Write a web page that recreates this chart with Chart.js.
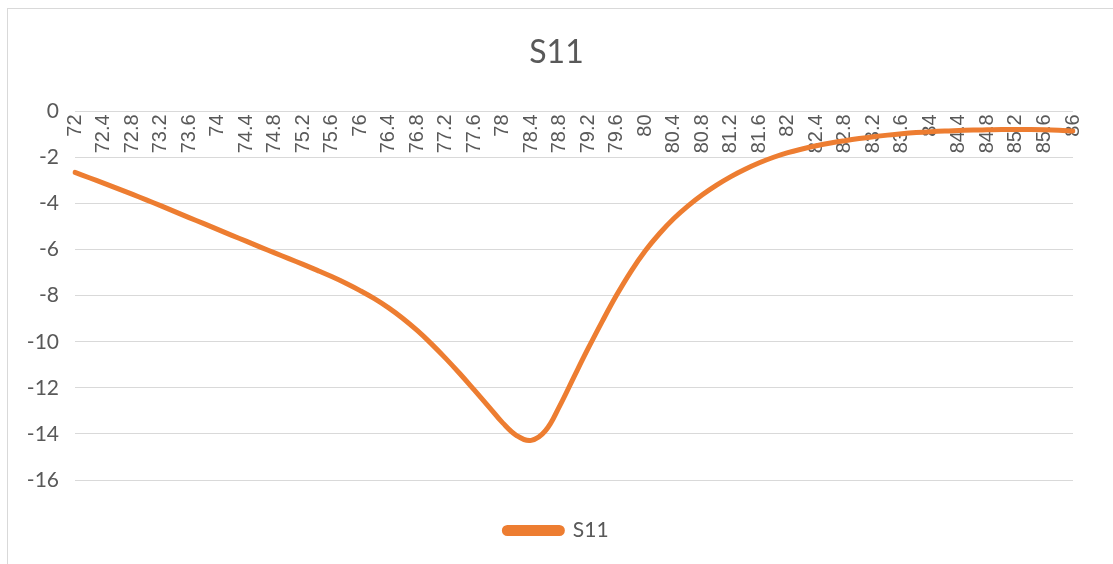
<!DOCTYPE html>
<html lang="en">
<head>
    <meta charset="UTF-8">
    <title>S11</title>
    <script src="https://cdn.jsdelivr.net/npm/chart.js"></script>
    <style>
        html, body { margin: 0; padding: 0; background: #fff; }
        .wrap { position: relative; width: 1113px; height: 564px; }
        .frame {
            position: absolute; left: 7px; top: 8px; right: 0; bottom: 0;
            border-left: 1px solid #d9d9d9; border-top: 1px solid #d9d9d9;
            pointer-events: none;
        }
    </style>
</head>
<body>
    <div class="wrap">
        <canvas id="s11Chart"></canvas>
        <div class="frame"></div>
    </div>

    <script>
        // Frequency points (step 0.2), every other one gets a label
        const freqs = [
            72, 72.2, 72.4, 72.6, 72.8, 73, 73.2, 73.4, 73.6, 73.8,
            74, 74.2, 74.4, 74.6, 74.8, 75, 75.2, 75.4, 75.6, 75.8,
            76, 76.2, 76.4, 76.6, 76.8, 77, 77.2, 77.4, 77.6, 77.8,
            78, 78.2, 78.4, 78.6, 78.8, 79, 79.2, 79.4, 79.6, 79.8,
            80, 80.2, 80.4, 80.6, 80.8, 81, 81.2, 81.4, 81.6, 81.8,
            82, 82.2, 82.4, 82.6, 82.8, 83, 83.2, 83.4, 83.6, 83.8,
            84, 84.2, 84.4, 84.6, 84.8, 85, 85.2, 85.4, 85.6, 85.8,
            86
        ];

        // S11 in dB
        const s11 = [
            -2.65, -2.88, -3.11, -3.35, -3.59, -3.84, -4.09, -4.35, -4.61, -4.86,
            -5.12, -5.38, -5.63, -5.89, -6.14, -6.39, -6.64, -6.9, -7.17, -7.46,
            -7.78, -8.13, -8.53, -8.99, -9.51, -10.09, -10.72, -11.39, -12.09, -12.8,
            -13.52, -14.08, -14.28, -13.86, -12.78, -11.52, -10.28, -9.09, -7.96, -6.94,
            -6.05, -5.3, -4.65, -4.1, -3.62, -3.2, -2.83, -2.51, -2.23, -1.99,
            -1.79, -1.63, -1.49, -1.37, -1.27, -1.18, -1.1, -1.03, -0.97, -0.92,
            -0.88, -0.85, -0.83, -0.81, -0.8, -0.79, -0.79, -0.79, -0.8, -0.82,
            -0.85
        ];

        const yMin = -16;
        const yMax = 0;
        const yStep = 2;

        const grey = '#595959';
        const gridGrey = '#d9d9d9';
        const orange = '#ED7D31';

        Chart.defaults.font.family = 'Lato, "Open Sans", sans-serif';
        Chart.defaults.color = grey;

        new Chart(document.getElementById('s11Chart'), {
            type: 'line',
            data: {
                labels: freqs.map(String),
                datasets: [{
                    label: 'S11',
                    data: s11,
                    borderColor: orange,
                    backgroundColor: orange,
                    borderWidth: 5,
                    pointRadius: 0,
                    tension: 0.4,
                    borderCapStyle: 'round',
                    borderJoinStyle: 'round'
                }]
            },
            options: {
                responsive: true,
                maintainAspectRatio: false,
                animation: false,
                layout: { padding: { left: 0, right: 0, top: 0, bottom: 13 } },
                plugins: {
                    title: {
                        display: true,
                        text: 'S11',
                        color: grey,
                        font: { size: 32, weight: 'normal' },
                        padding: { top: 33, bottom: 40 }
                    },
                    legend: {
                        position: 'bottom',
                        labels: {
                            boxWidth: 58,
                            boxHeight: 6,
                            useBorderRadius: true,
                            borderRadius: 3,
                            padding: 10,
                            color: grey,
                            font: { size: 21 }
                        }
                    },
                    tooltip: { enabled: false }
                },
                scales: {
                    x: {
                        type: 'category',
                        position: { y: 0 },
                        offset: false,
                        grid: { display: false, drawTicks: false },
                        border: { display: false },
                        ticks: {
                            autoSkip: false,
                            minRotation: 90,
                            maxRotation: 90,
                            padding: 3,
                            color: grey,
                            font: { family: '"Liberation Sans", Arial, sans-serif', size: 20 },
                            callback: function (val, i) {
                                return i % 2 === 0 ? this.getLabelForValue(val) : '';
                            }
                        }
                    },
                    // empty boxes that only hold space around the plot
                    spacer: {
                        type: 'linear',
                        position: 'bottom',
                        grid: { display: false, drawTicks: false },
                        border: { display: false },
                        ticks: { display: false },
                        afterFit: s => { s.height = 30; }
                    },
                    spacerRight: {
                        type: 'linear',
                        position: 'right',
                        grid: { display: false, drawTicks: false },
                        border: { display: false },
                        ticks: { display: false },
                        afterFit: s => { s.width = 40; }
                    },
                    y: {
                        min: yMin,
                        max: yMax,
                        grid: { color: gridGrey, lineWidth: 1, drawTicks: false },
                        border: { display: false },
                        ticks: {
                            stepSize: yStep,
                            padding: 16,
                            color: grey,
                            font: { size: 21 }
                        },
                        afterFit: s => { s.width = 75; }
                    }
                }
            }
        });
    </script>
</body>
</html>
